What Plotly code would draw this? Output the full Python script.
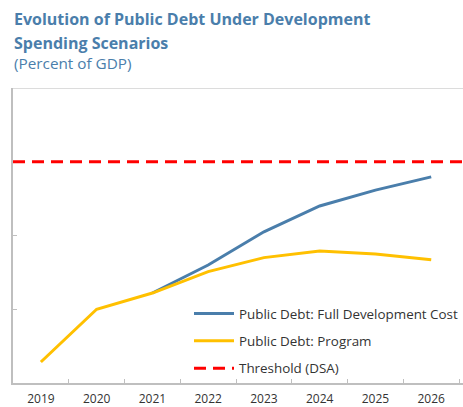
import plotly.graph_objects as go

years = ["2019", "2020", "2021", "2022", "2023", "2024", "2025", "2026"]
full_cost = [None, None, 24.4, 32.0, 41.0, 48.0, 52.3, 55.9]
program = [5.7, 20.0, 24.4, 30.2, 34.0, 35.8, 35.0, 33.4]
threshold = 60.0

BLUE = "#4A7EAB"
YELLOW = "#FFC000"
RED = "#FF0000"
FONT = "Open Sans"
DASH = "12px,7px"

fig = go.Figure()
fig.add_trace(go.Scatter(x=years, y=full_cost, mode="lines", name="Public Debt: Full Development Cost",
                         legendgroup="a", line=dict(color=BLUE, width=3)))
fig.add_trace(go.Scatter(x=years, y=program, mode="lines", name="Public Debt: Program",
                         legendgroup="b", line=dict(color=YELLOW, width=3)))
# legend entry for threshold; the line itself is drawn across the full plot width as a shape
fig.add_trace(go.Scatter(x=[years[0]], y=[None], mode="lines", name="Threshold (DSA)",
                         legendgroup="c", line=dict(color=RED, width=3, dash=DASH)))
fig.add_shape(type="line", xref="paper", yref="y", x0=0, x1=1, y0=threshold, y1=threshold,
              line=dict(color=RED, width=3, dash=DASH))

fig.add_shape(type="line", xref="paper", yref="y", x0=0, x1=1, y0=80, y1=80,
              line=dict(color="#D0D0D0", width=1.5), layer="below")

fig.update_layout(
    width=463, height=407,
    margin=dict(l=13, r=0, t=88, b=24, autoexpand=False),
    paper_bgcolor="white", plot_bgcolor="white",
    font=dict(family=FONT, size=12, color="#333333"),
    showlegend=True,
    legend=dict(x=1.0, xanchor="right", y=-0.004, yanchor="bottom",
                bgcolor="rgba(0,0,0,0)", font=dict(size=13.4, color="#333333"),
                tracegroupgap=7, itemwidth=40),
    xaxis=dict(type="category", categoryorder="array", categoryarray=years,
               range=[-0.5, 7.57], showgrid=False, showline=True, linecolor="#BFBFBF",
               linewidth=1.5, ticks="inside", tickson="boundaries", ticklen=4,
               tickcolor="#BFBFBF", ticklabelstandoff=4, zeroline=False, automargin=False,
               tickfont=dict(size=12, color="#333333")),
    yaxis=dict(range=[0, 80], dtick=20, showgrid=False, showline=True, linecolor="#BFBFBF",
               linewidth=1.5, ticks="inside", ticklen=4, tickcolor="#BFBFBF",
               showticklabels=False, zeroline=False, automargin=False),
    annotations=[
        dict(text="<b>Evolution of Public Debt Under Development</b>",
             xref="paper", yref="paper", x=-0.003, y=1.0, xanchor="left", yanchor="middle",
             yshift=69, align="left", showarrow=False,
             font=dict(family=FONT, size=16, color=BLUE)),
        dict(text="<b>Spending Scenarios</b>",
             xref="paper", yref="paper", x=-0.003, y=1.0, xanchor="left", yanchor="middle",
             yshift=45, align="left", showarrow=False,
             font=dict(family=FONT, size=16, color=BLUE)),
        dict(text="(Percent of GDP)", xref="paper", yref="paper", x=-0.003, y=1.0,
             xanchor="left", yanchor="middle", yshift=25, align="left", showarrow=False,
             font=dict(family=FONT, size=15.3, color=BLUE)),
    ],
)

fig.write_html("out.html")
